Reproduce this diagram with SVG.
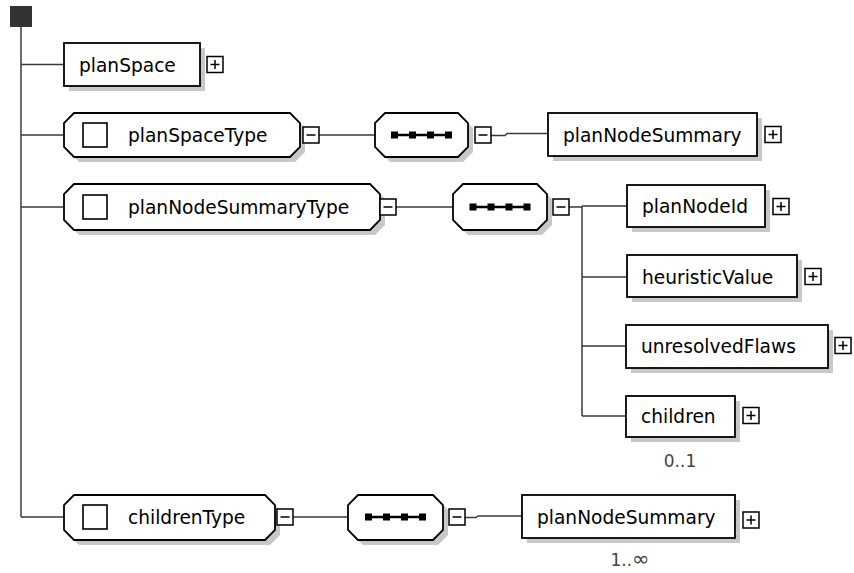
<svg xmlns="http://www.w3.org/2000/svg" width="854" height="573" viewBox="0 0 854 573">
<style>
.bx{fill:#fff;stroke:#000;stroke-width:1.8}
.sh{fill:#c8c8c8;stroke:none}
.ln{fill:none;stroke:#3a3a3a;stroke-width:1.5}
.pm{fill:#fff;stroke:#000;stroke-width:1.5}
.pl{fill:none;stroke:#000;stroke-width:1.5}
.sq{fill:#fff;stroke:#000;stroke-width:1.6}
.t{font-family:"DejaVu Sans",sans-serif;font-size:18.6px;fill:#000}
.m{font-family:"DejaVu Sans",sans-serif;font-size:17px;fill:#444;text-anchor:middle}
.dot{fill:#000}
</style>
<defs>
<g id="plus"><rect class="pm" x="0" y="0" width="16" height="16"/><path class="pl" d="M3.5 8H12.5M8 3.5V12.5"/></g>
<g id="minus"><rect class="pm" x="0" y="0" width="16" height="16"/><path class="pl" d="M3.5 8H12.5"/></g>
<g id="dots"><path d="M-27 0H27" stroke="#000" stroke-width="2.5"/><rect class="dot" x="-30.5" y="-3.5" width="7" height="7"/><rect class="dot" x="-12.5" y="-3.5" width="7" height="7"/><rect class="dot" x="5.5" y="-3.5" width="7" height="7"/><rect class="dot" x="23.5" y="-3.5" width="7" height="7"/></g>
</defs>
<rect width="854" height="573" fill="#fff"/>
<g id="connectors">
<path class="ln" d="M21 27V517"/>
<path class="ln" d="M21 64.5H64M21 135H64M21 207H64M21 517H64"/>
<path class="ln" d="M319 135H375"/>
<path class="ln" d="M491 135.5H505L507 133.5H548"/>
<path class="ln" d="M396 207H453"/>
<path class="ln" d="M569 207H582M582 206V416M582 206H627M582 277H627M582 346H626M582 416H626"/>
<path class="ln" d="M293 517H348"/>
<path class="ln" d="M465 517.5H476L478 516H522"/>
</g>
<g id="root"><rect x="10" y="6" width="22" height="21" fill="#333"/></g>
<g id="planSpace">
<rect class="sh" x="69" y="48" width="136" height="43"/>
<rect class="bx" x="64" y="43" width="136" height="43"/>
<text class="t" x="79" y="72">planSpace</text>
<use href="#plus" x="207" y="56.5"/>
</g>
<g id="planSpaceType">
<path class="sh" d="M79 118H295L305 128V152L295 162H79L69 152V128Z"/>
<path class="bx" d="M74 113H290L300 123V147L290 157H74L64 147V123Z"/>
<rect class="sq" x="83" y="123" width="24" height="24"/>
<text class="t" x="128" y="142">planSpaceType</text>
<use href="#minus" x="303" y="127"/>
</g>
<g id="seq1">
<path class="sh" d="M390 118H463L473 128V152L463 162H390L380 152V128Z"/>
<path class="bx" d="M385 113H458L468 123V147L458 157H385L375 147V123Z"/>
<use href="#dots" x="421.5" y="135"/>
<use href="#minus" x="475" y="127"/>
</g>
<g id="planNodeSummary1">
<rect class="sh" x="553" y="118" width="209" height="43"/>
<rect class="bx" x="548" y="113" width="209" height="43"/>
<text class="t" x="563" y="142">planNodeSummary</text>
<use href="#plus" x="765" y="126.5"/>
</g>
<g id="planNodeSummaryType">
<path class="sh" d="M79 189H375L385 199V225L375 235H79L69 225V199Z"/>
<path class="bx" d="M74 184H370L380 194V220L370 230H74L64 220V194Z"/>
<rect class="sq" x="83" y="195" width="24" height="24"/>
<text class="t" x="128" y="214">planNodeSummaryType</text>
<use href="#minus" x="380" y="199"/>
</g>
<g id="seq2">
<path class="sh" d="M468 189H542L552 199V225L542 235H468L458 225V199Z"/>
<path class="bx" d="M463 184H537L547 194V220L537 230H463L453 220V194Z"/>
<use href="#dots" x="500" y="207"/>
<use href="#minus" x="553" y="199"/>
</g>
<g id="planNodeId">
<rect class="sh" x="632" y="190" width="138" height="42"/>
<rect class="bx" x="627" y="185" width="138" height="42"/>
<text class="t" x="642" y="213">planNodeId</text>
<use href="#plus" x="773" y="198.5"/>
</g>
<g id="heuristicValue">
<rect class="sh" x="632" y="260" width="170" height="42"/>
<rect class="bx" x="627" y="255" width="170" height="42"/>
<text class="t" x="642" y="284">heuristicValue</text>
<use href="#plus" x="805" y="268.5"/>
</g>
<g id="unresolvedFlaws">
<rect class="sh" x="631" y="330" width="202" height="43"/>
<rect class="bx" x="626" y="325" width="202" height="43"/>
<text class="t" x="641" y="353">unresolvedFlaws</text>
<use href="#plus" x="835" y="337.5"/>
</g>
<g id="children">
<rect class="sh" x="631" y="401" width="109" height="41"/>
<rect class="bx" x="626" y="396" width="109" height="41"/>
<text class="t" x="641" y="423">children</text>
<use href="#plus" x="743" y="407.5"/>
<text class="m" x="680" y="467">0..1</text>
</g>
<g id="childrenType">
<path class="sh" d="M79 500H270L280 510V535L270 545H79L69 535V510Z"/>
<path class="bx" d="M74 495H265L275 505V530L265 540H74L64 530V505Z"/>
<rect class="sq" x="83" y="505" width="24" height="24"/>
<text class="t" x="128" y="524">childrenType</text>
<use href="#minus" x="277" y="509"/>
</g>
<g id="seq3">
<path class="sh" d="M363 500H438L448 510V535L438 545H363L353 535V510Z"/>
<path class="bx" d="M358 495H433L443 505V530L433 540H358L348 530V505Z"/>
<use href="#dots" x="395.5" y="517"/>
<use href="#minus" x="449" y="509"/>
</g>
<g id="planNodeSummary2">
<rect class="sh" x="527" y="500" width="213" height="43"/>
<rect class="bx" x="522" y="495" width="213" height="43"/>
<text class="t" x="537" y="524">planNodeSummary</text>
<use href="#plus" x="743" y="512"/>
<text class="m" x="630" y="566">1..<tspan font-size="21px">∞</tspan></text>
</g>
</svg>
